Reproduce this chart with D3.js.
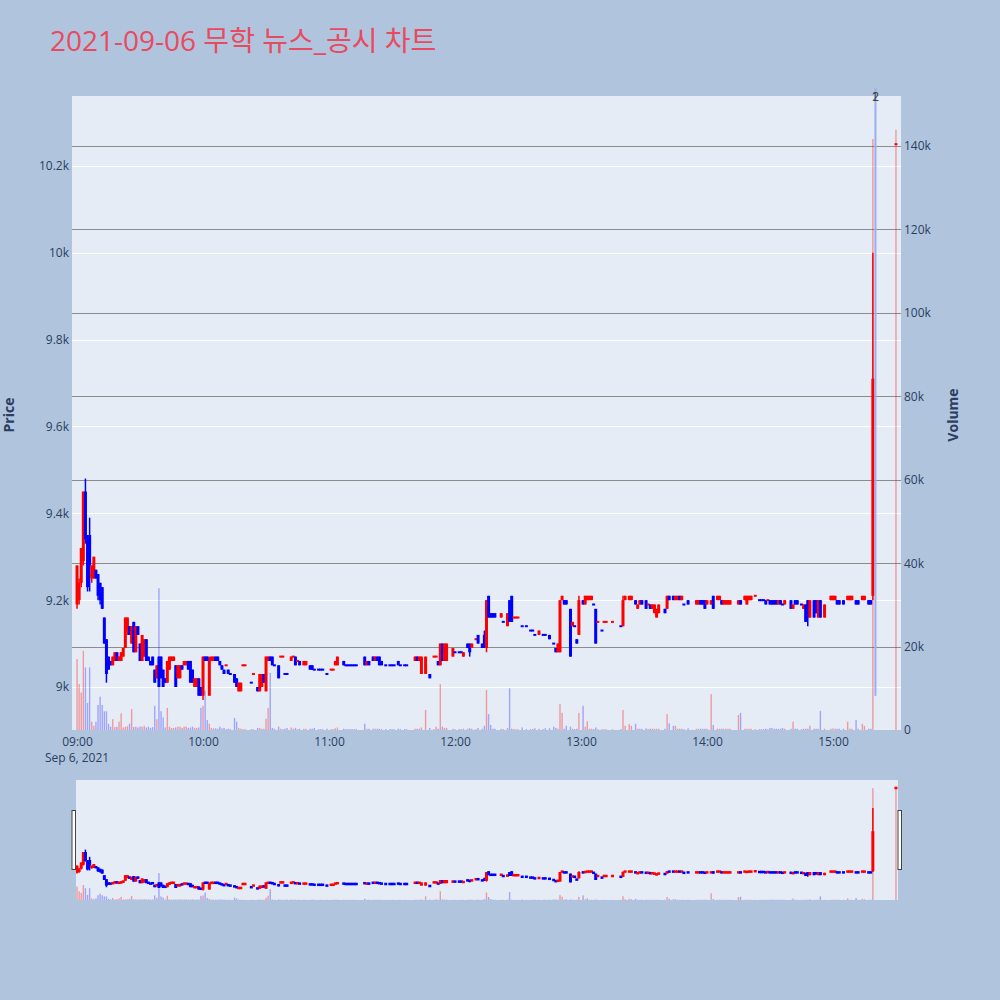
<!DOCTYPE html>
<meta charset="utf-8">
<title>무학 뉴스_공시 차트</title>
<style>
  body { margin: 0; background: #b0c4de; }
  svg { display: block; font-family: "Open Sans", "Noto Sans CJK KR", sans-serif; }
</style>
<div id="viz"></div>
<script src="https://cdnjs.cloudflare.com/ajax/libs/d3/7.8.5/d3.min.js"></script>
<script>

// one row per 1-minute candle: [minute, open, high, low, close, volume]
var hour09 = [
  [0, 9190, 9280, 9180, 9280, 17000], [1, 9200, 9250, 9190, 9240, 11000],
  [2, 9240, 9320, 9230, 9320, 9000], [3, 9290, 9450, 9280, 9450, 19000],
  [4, 9450, 9480, 9330, 9340, 15000], [5, 9340, 9350, 9220, 9230, 6500],
  [6, 9350, 9390, 9220, 9280, 15000], [7, 9250, 9280, 9240, 9280, 2000],
  [8, 9250, 9300, 9250, 9300, 1000], [9, 9270, 9270, 9250, 9250, 2000],
  [10, 9260, 9260, 9200, 9210, 6000], [11, 9240, 9240, 9190, 9200, 8000],
  [12, 9230, 9230, 9180, 9180, 6000], [13, 9160, 9160, 9100, 9100, 4500],
  [14, 9110, 9110, 9010, 9030, 4500], [15, 9070, 9070, 9040, 9040, 1500],
  [16, 9060, 9060, 9050, 9050, 800], [17, 9050, 9070, 9050, 9070, 2600],
  [18, 9060, 9080, 9060, 9080, 700], [19, 9080, 9080, 9060, 9060, 800],
  [20, 9060, 9070, 9060, 9070, 2000], [21, 9060, 9080, 9060, 9080, 4000],
  [22, 9070, 9090, 9070, 9090, 600], [23, 9090, 9160, 9090, 9160, 800],
  [24, 9130, 9160, 9120, 9160, 900], [25, 9140, 9140, 9120, 9120, 1500],
  [26, 9100, 9140, 9100, 9140, 5000], [27, 9150, 9150, 9080, 9080, 700],
  [28, 9080, 9140, 9080, 9140, 800], [29, 9140, 9140, 9120, 9120, 600],
  [30, 9100, 9100, 9060, 9060, 800], [31, 9060, 9120, 9060, 9120, 800],
  [32, 9070, 9110, 9070, 9110, 1000], [33, 9110, 9110, 9060, 9060, 600],
  [34, 9070, 9070, 9060, 9060, 800], [35, 9060, 9060, 9050, 9050, 500],
  [36, 9070, 9070, 9050, 9050, 700], [37, 9040, 9040, 9010, 9010, 5800],
  [38, 9020, 9050, 9020, 9050, 2600], [39, 9070, 9070, 9000, 9000, 34000],
  [40, 9070, 9070, 9020, 9020, 4500], [41, 9040, 9040, 9000, 9000, 3000],
  [42, 9020, 9020, 9010, 9010, 600], [43, 9010, 9060, 9010, 9060, 5300],
  [44, 9040, 9070, 9040, 9070, 800], [45, 9060, 9070, 9060, 9070, 500],
  [46, 9060, 9070, 9060, 9070, 500], [47, 9050, 9050, 9000, 9000, 600],
  [48, 9020, 9050, 9020, 9050, 800], [49, 9020, 9050, 9020, 9050, 800],
  [50, 9050, 9050, 9040, 9040, 500], [51, 9050, 9060, 9050, 9060, 800],
  [52, 9050, 9060, 9050, 9060, 800], [53, 9060, 9060, 9040, 9040, 500],
  [54, 9060, 9060, 9010, 9010, 600], [55, 9040, 9040, 9010, 9010, 800],
  [56, 9000, 9020, 9000, 9020, 500], [57, 9000, 9020, 9000, 9020, 500],
  [58, 9020, 9020, 8980, 8980, 600], [59, 9000, 9000, 8980, 8980, 5300]
];

var hour10 = [
  [0, 8980, 9070, 8970, 9070, 5800], [1, 9070, 9070, 9060, 9060, 9400],
  [2, 9070, 9070, 9060, 9060, 2400], [3, 8980, 9070, 8980, 9060, 1500],
  [4, 9060, 9070, 9060, 9070, 500], [5, 9060, 9070, 9060, 9070, 400],
  [6, 9070, 9070, 9060, 9060, 400], [7, 9070, 9070, 9060, 9060, 300],
  [8, 9060, 9060, 9050, 9050, 800], [9, 9050, 9050, 9040, 9040, 400],
  [10, 9040, 9040, 9030, 9030, 500], [11, 9050, 9050, 9050, 9050, 200],
  [12, 9040, 9040, 9030, 9030, 300], [13, 9030, 9030, 9030, 9030, 200],
  [15, 9030, 9030, 9010, 9010, 2900], [16, 9020, 9020, 9000, 9000, 2000],
  [17, 8990, 9010, 8990, 9010, 500], [18, 8990, 9010, 8990, 9010, 300],
  [19, 9050, 9050, 9050, 9050, 200], [20, 9050, 9050, 9050, 9050, 200],
  [23, 9010, 9010, 9010, 9010, 200], [24, 9030, 9030, 9030, 9030, 200],
  [26, 9000, 9000, 8990, 8990, 500], [27, 8990, 9030, 8990, 9030, 500],
  [28, 9000, 9030, 9000, 9030, 300], [29, 9030, 9030, 9010, 9010, 300],
  [30, 8990, 9070, 8990, 9070, 2700], [31, 9060, 9070, 9060, 9070, 5300],
  [32, 9070, 9070, 9060, 9060, 13700], [33, 9070, 9070, 9050, 9050, 500],
  [34, 9050, 9050, 9050, 9050, 300], [36, 9050, 9050, 9020, 9020, 800],
  [37, 9070, 9070, 9070, 9070, 300], [38, 9070, 9070, 9070, 9070, 200],
  [39, 9030, 9030, 9030, 9030, 300], [40, 9030, 9030, 9030, 9030, 500],
  [42, 9060, 9070, 9060, 9070, 600], [43, 9070, 9070, 9070, 9070, 300],
  [44, 9070, 9070, 9050, 9050, 500], [45, 9060, 9060, 9060, 9060, 200],
  [46, 9060, 9060, 9050, 9050, 300], [48, 9050, 9060, 9050, 9060, 300],
  [49, 9050, 9060, 9050, 9060, 300], [51, 9050, 9050, 9040, 9040, 300],
  [52, 9050, 9050, 9040, 9040, 300], [53, 9040, 9040, 9040, 9040, 500],
  [55, 9040, 9040, 9040, 9040, 200], [56, 9040, 9040, 9040, 9040, 200],
  [57, 9040, 9040, 9040, 9040, 200], [59, 9030, 9030, 9030, 9030, 300]
];

var hour11 = [
  [1, 9040, 9040, 9040, 9040, 200], [2, 9040, 9040, 9040, 9040, 200],
  [3, 9050, 9060, 9050, 9060, 400], [4, 9050, 9070, 9050, 9070, 600],
  [7, 9060, 9060, 9050, 9050, 300], [8, 9050, 9050, 9050, 9050, 200],
  [9, 9050, 9050, 9050, 9050, 200], [10, 9050, 9050, 9050, 9050, 200],
  [11, 9050, 9050, 9050, 9050, 200], [12, 9050, 9050, 9050, 9050, 200],
  [13, 9050, 9050, 9050, 9050, 200], [17, 9070, 9070, 9050, 9050, 1500],
  [18, 9050, 9060, 9050, 9060, 300], [19, 9060, 9060, 9050, 9050, 300],
  [21, 9070, 9070, 9060, 9060, 300], [22, 9060, 9070, 9060, 9070, 300],
  [23, 9070, 9070, 9060, 9060, 300], [24, 9070, 9070, 9050, 9050, 300],
  [25, 9060, 9060, 9050, 9050, 200], [27, 9050, 9050, 9050, 9050, 200],
  [29, 9050, 9050, 9050, 9050, 200], [30, 9050, 9050, 9050, 9050, 200],
  [31, 9050, 9050, 9050, 9050, 200], [33, 9060, 9060, 9050, 9050, 300],
  [34, 9050, 9050, 9050, 9050, 200], [36, 9050, 9050, 9050, 9050, 200],
  [37, 9050, 9050, 9050, 9050, 200], [41, 9060, 9070, 9060, 9070, 300],
  [42, 9070, 9070, 9060, 9060, 300], [43, 9060, 9070, 9060, 9070, 300],
  [44, 9030, 9070, 9030, 9070, 600], [46, 9030, 9070, 9030, 9070, 4800],
  [48, 9030, 9030, 9020, 9020, 500], [50, 9070, 9070, 9070, 9070, 200],
  [51, 9070, 9070, 9070, 9070, 800], [52, 9060, 9060, 9050, 9050, 300],
  [53, 9050, 9100, 9050, 9100, 11000], [54, 9100, 9100, 9060, 9060, 800],
  [55, 9060, 9100, 9060, 9100, 500], [56, 9060, 9100, 9060, 9100, 500],
  [59, 9070, 9090, 9070, 9090, 300]
];

var hour12 = [
  [0, 9080, 9080, 9080, 9080, 200], [2, 9080, 9080, 9080, 9080, 200],
  [3, 9080, 9080, 9080, 9080, 200], [4, 9070, 9080, 9070, 9080, 300],
  [6, 9100, 9100, 9090, 9090, 300], [7, 9100, 9100, 9070, 9080, 400],
  [8, 9090, 9100, 9090, 9100, 300], [10, 9110, 9110, 9110, 9110, 200],
  [11, 9120, 9120, 9100, 9100, 500], [13, 9100, 9100, 9090, 9090, 300],
  [14, 9120, 9130, 9090, 9090, 1000], [15, 9090, 9200, 9080, 9200, 9600],
  [16, 9210, 9210, 9160, 9160, 3800], [17, 9170, 9170, 9160, 9160, 1200],
  [18, 9170, 9170, 9160, 9160, 300], [19, 9170, 9170, 9160, 9160, 300],
  [22, 9160, 9170, 9160, 9170, 300], [23, 9150, 9150, 9150, 9150, 200],
  [25, 9140, 9170, 9140, 9170, 500], [26, 9200, 9200, 9150, 9150, 10000],
  [27, 9210, 9210, 9150, 9150, 300], [28, 9160, 9160, 9160, 9160, 200],
  [29, 9160, 9160, 9160, 9160, 200], [30, 9160, 9160, 9160, 9160, 200],
  [32, 9140, 9140, 9140, 9140, 600], [34, 9140, 9140, 9140, 9140, 200],
  [36, 9130, 9130, 9130, 9130, 200], [37, 9130, 9130, 9130, 9130, 200],
  [38, 9120, 9120, 9120, 9120, 400], [40, 9120, 9130, 9120, 9130, 300],
  [42, 9120, 9120, 9120, 9120, 200], [43, 9120, 9120, 9120, 9120, 400],
  [45, 9120, 9120, 9110, 9110, 400], [47, 9100, 9100, 9100, 9100, 800],
  [48, 9090, 9090, 9080, 9080, 500], [49, 9080, 9100, 9080, 9100, 300],
  [50, 9080, 9200, 9080, 9200, 6200], [51, 9200, 9210, 9200, 9210, 4100],
  [52, 9200, 9200, 9190, 9190, 300], [53, 9200, 9200, 9190, 9190, 1000],
  [55, 9180, 9180, 9070, 9070, 800], [56, 9140, 9150, 9140, 9150, 300],
  [57, 9140, 9140, 9140, 9140, 200], [58, 9110, 9110, 9100, 9100, 300],
  [59, 9120, 9210, 9120, 9200, 4100]
];

var hour13 = [
  [1, 9200, 9200, 9190, 9190, 5800], [2, 9190, 9210, 9190, 9210, 800],
  [3, 9200, 9210, 9200, 9210, 2100], [4, 9200, 9210, 9200, 9210, 300],
  [5, 9200, 9210, 9200, 9210, 300], [6, 9190, 9190, 9190, 9190, 200],
  [7, 9180, 9180, 9100, 9100, 600], [8, 9150, 9150, 9150, 9150, 200],
  [10, 9130, 9130, 9130, 9130, 200], [11, 9150, 9150, 9150, 9150, 200],
  [12, 9150, 9150, 9150, 9150, 200], [15, 9150, 9150, 9150, 9150, 200],
  [19, 9140, 9140, 9140, 9140, 200], [20, 9140, 9210, 9140, 9200, 4800],
  [21, 9200, 9210, 9200, 9210, 1000], [23, 9200, 9210, 9200, 9210, 1400],
  [24, 9200, 9210, 9200, 9210, 1000], [26, 9200, 9200, 9190, 9190, 1500],
  [27, 9180, 9190, 9180, 9190, 300], [28, 9190, 9200, 9190, 9200, 300],
  [29, 9200, 9200, 9190, 9190, 300], [31, 9200, 9200, 9180, 9180, 400],
  [32, 9190, 9190, 9190, 9190, 200], [33, 9190, 9190, 9180, 9180, 300],
  [34, 9180, 9190, 9180, 9190, 300], [35, 9170, 9190, 9170, 9190, 300],
  [36, 9160, 9180, 9160, 9180, 300], [37, 9170, 9190, 9170, 9190, 300],
  [40, 9180, 9180, 9170, 9170, 300], [41, 9180, 9210, 9180, 9210, 3800],
  [42, 9210, 9210, 9200, 9200, 1600], [44, 9210, 9210, 9200, 9200, 1000],
  [45, 9200, 9210, 9200, 9210, 1000], [46, 9200, 9210, 9200, 9210, 300],
  [47, 9210, 9210, 9200, 9200, 300], [48, 9200, 9210, 9200, 9210, 300],
  [49, 9190, 9190, 9190, 9190, 200], [51, 9200, 9200, 9190, 9190, 400],
  [55, 9190, 9200, 9190, 9200, 300], [56, 9190, 9200, 9190, 9200, 300],
  [57, 9200, 9200, 9190, 9190, 300], [58, 9200, 9200, 9190, 9190, 300],
  [59, 9200, 9200, 9180, 9180, 300]
];

var hour14 = [
  [0, 9190, 9200, 9190, 9200, 300], [2, 9190, 9200, 9190, 9200, 8600],
  [3, 9210, 9210, 9180, 9180, 1200], [5, 9200, 9210, 9200, 9210, 300],
  [6, 9200, 9210, 9200, 9210, 300], [7, 9200, 9200, 9190, 9190, 300],
  [8, 9190, 9200, 9190, 9200, 300], [9, 9190, 9200, 9190, 9200, 300],
  [10, 9190, 9200, 9190, 9200, 300], [11, 9190, 9200, 9190, 9200, 300],
  [15, 9190, 9200, 9190, 9200, 3600], [16, 9200, 9200, 9190, 9190, 4100],
  [18, 9200, 9210, 9200, 9210, 300], [19, 9190, 9210, 9190, 9210, 300],
  [20, 9200, 9210, 9200, 9210, 300], [21, 9200, 9210, 9200, 9210, 300],
  [23, 9210, 9210, 9210, 9210, 200], [25, 9200, 9200, 9200, 9200, 200],
  [26, 9200, 9200, 9200, 9200, 200], [27, 9200, 9200, 9200, 9200, 200],
  [28, 9200, 9200, 9190, 9190, 300], [29, 9200, 9200, 9200, 9200, 200],
  [30, 9200, 9200, 9190, 9190, 500], [31, 9200, 9200, 9190, 9190, 500],
  [32, 9200, 9200, 9190, 9190, 300], [33, 9200, 9200, 9190, 9190, 300],
  [34, 9190, 9200, 9190, 9200, 300], [35, 9200, 9200, 9190, 9190, 300],
  [36, 9190, 9190, 9190, 9190, 500], [37, 9190, 9200, 9190, 9200, 300],
  [40, 9200, 9200, 9180, 9180, 300], [41, 9180, 9190, 9180, 9190, 2000],
  [42, 9200, 9200, 9190, 9190, 300], [43, 9200, 9200, 9190, 9190, 300],
  [45, 9190, 9190, 9190, 9190, 200], [46, 9180, 9190, 9180, 9190, 300],
  [47, 9190, 9190, 9150, 9150, 300], [48, 9200, 9200, 9140, 9160, 300],
  [49, 9160, 9200, 9160, 9200, 1000], [51, 9200, 9200, 9160, 9160, 300],
  [52, 9200, 9200, 9170, 9170, 300], [53, 9160, 9200, 9160, 9200, 300],
  [54, 9200, 9200, 9160, 9160, 4600], [56, 9160, 9190, 9160, 9190, 300],
  [59, 9200, 9210, 9200, 9210, 300]
];

var hour15 = [
  [0, 9200, 9210, 9200, 9210, 400], [1, 9200, 9210, 9200, 9210, 300],
  [2, 9200, 9200, 9190, 9190, 300], [3, 9200, 9200, 9190, 9190, 300],
  [5, 9200, 9200, 9190, 9190, 300], [7, 9200, 9210, 9200, 9210, 2000],
  [8, 9200, 9210, 9200, 9210, 300], [9, 9200, 9210, 9200, 9210, 300],
  [11, 9200, 9200, 9190, 9190, 2400], [12, 9200, 9200, 9190, 9190, 300],
  [14, 9200, 9210, 9200, 9210, 1500], [15, 9200, 9210, 9200, 9210, 1000],
  [17, 9200, 9200, 9190, 9190, 300], [18, 9200, 9200, 9190, 9190, 300],
  [19, 9210, 10000, 9200, 9710, 141700],
  [30, 10250, 10250, 10250, 10250, 143900]
];

var hourRows = [hour09, hour10, hour11, hour12, hour13, hour14, hour15];
var hourStarts = [9, 10, 11, 12, 13, 14, 15];

var priceTicks = [9000, 9200, 9400, 9600, 9800, 10000, 10200];
var volumeTicks = [0, 20000, 40000, 60000, 80000, 100000, 120000, 140000];
var timeTicks = ["09:00", "10:00", "11:00", "12:00", "13:00", "14:00", "15:00"];

var newsTimes = ["15:20", "15:20"];
var newsLabels = ["1", "2"];
var newsLow = 8980;

var chartTitle = "2021-09-06 무학 뉴스_공시 차트";
var dateLabel = "Sep 6, 2021";

// ---------------------------------------------------------------

function at(hm) {
  var p = hm.split(":");
  return new Date(2021, 8, 6, +p[0], +p[1]);
}

var candles = [];
hourRows.forEach(function(rows, k) {
  rows.forEach(function(r) {
    candles.push({ date: new Date(2021, 8, 6, hourStarts[k], r[0]),
      o: r[1], h: r[2], l: r[3], c: r[4], v: r[5] });
  });
});

// plotly style direction: flat candles look at the previous close
var up = true, cPrev = null;
candles.forEach(function(d) {
  if (d.c === d.o) {
    if (cPrev !== null && d.c !== cPrev) up = d.c > cPrev;
  } else up = d.c > d.o;
  d.up = up;
  cPrev = d.c;
});

var W = 1000, H = 1000;
var mLeft = 72, mRight = 901, mTop = 96, mBottom = 730;
var sTop = 780, sBottom = 900, sLeft = 76, sRight = 898;

var RED = "#ff0000", BLUE = "#0000ff";
var VRED = "rgba(255,0,0,0.35)", VBLUE = "rgba(0,0,255,0.3)";
var TICK = "#2a3f5f";

var svg = d3.select("#viz").append("svg")
  .attr("width", W).attr("height", H);

svg.append("rect").attr("width", W).attr("height", H).attr("fill", "#b0c4de");

var x = d3.scaleTime()
  .domain([new Date(2021, 8, 6, 8, 57, 36), new Date(2021, 8, 6, 15, 32, 24)])
  .range([mLeft, mRight]);
var yP = d3.scaleLinear().domain([8901, 10361]).range([mBottom, mTop]);
var yV = d3.scaleLinear().domain([0, 152000]).range([mBottom, mTop]);

// title
svg.append("text")
  .attr("x", 50).attr("y", 51)
  .attr("font-size", 28)
  .attr("fill", "#e84a5f")
  .text(chartTitle);

// plot background + grids
svg.append("rect")
  .attr("x", mLeft).attr("y", mTop)
  .attr("width", mRight - mLeft).attr("height", mBottom - mTop)
  .attr("fill", "#e5ecf6");

svg.append("g").selectAll("line").data(priceTicks).join("line")
  .attr("x1", mLeft).attr("x2", mRight)
  .attr("y1", function(d) { return Math.round(yP(d)) + 0.5; })
  .attr("y2", function(d) { return Math.round(yP(d)) + 0.5; })
  .attr("stroke", "#fff").attr("stroke-width", 1);

svg.append("g").selectAll("line").data(volumeTicks.slice(1)).join("line")
  .attr("x1", mLeft).attr("x2", mRight)
  .attr("y1", function(d) { return Math.round(yV(d)) + 0.5; })
  .attr("y2", function(d) { return Math.round(yV(d)) + 0.5; })
  .attr("stroke", "#8c8c8c").attr("stroke-width", 1);

svg.append("clipPath").attr("id", "clip-main")
  .append("rect").attr("x", mLeft).attr("y", mTop - 10)
  .attr("width", mRight - mLeft).attr("height", mBottom - mTop + 10);

function drawCandles(g, xs, ys, bodyW, wickW, minH) {
  g.selectAll("line.wick").data(candles).join("line")
    .attr("class", "wick")
    .attr("x1", function(d) { return xs(d.date); })
    .attr("x2", function(d) { return xs(d.date); })
    .attr("y1", function(d) { return ys(d.h); })
    .attr("y2", function(d) { return ys(d.l); })
    .attr("stroke", function(d) { return d.up ? RED : BLUE; })
    .attr("stroke-width", wickW);
  g.selectAll("rect.body").data(candles).join("rect")
    .attr("class", "body")
    .attr("x", function(d) { return xs(d.date) - bodyW / 2; })
    .attr("width", bodyW)
    .attr("y", function(d) {
      var y0 = ys(Math.max(d.o, d.c)), y1 = ys(Math.min(d.o, d.c));
      return y1 - y0 < minH ? (y0 + y1) / 2 - minH / 2 : y0;
    })
    .attr("height", function(d) {
      return Math.max(minH, ys(Math.min(d.o, d.c)) - ys(Math.max(d.o, d.c)));
    })
    .attr("fill", function(d) { return d.up ? RED : BLUE; });
}

function drawVolume(g, xs, ys, w) {
  g.selectAll("rect.vol").data(candles).join("rect")
    .attr("class", "vol")
    .attr("x", function(d) { return xs(d.date) - w / 2; })
    .attr("width", w)
    .attr("y", function(d) { return ys(d.v); })
    .attr("height", function(d) { return ys(0) - ys(d.v); })
    .attr("fill", function(d) { return d.up ? VRED : VBLUE; });
}

var main = svg.append("g").attr("clip-path", "url(#clip-main)");
drawCandles(main.append("g"), x, yP, 3, 1.5, 2);
drawVolume(main.append("g"), x, yV, 1.4);

// news markers
main.append("g").selectAll("line").data(newsTimes).join("line")
  .attr("x1", function(d) { return x(at(d)) + 0.5; })
  .attr("x2", function(d) { return x(at(d)) + 0.5; })
  .attr("y1", mTop - 8)
  .attr("y2", yP(newsLow))
  .attr("stroke", "#9aaef0").attr("stroke-width", 1.6);

svg.append("g").selectAll("text").data(newsLabels).join("text")
  .attr("x", function(d, i) { return x(at(newsTimes[i])) + i * 0.8; })
  .attr("y", mTop + 5)
  .attr("text-anchor", "middle")
  .attr("font-size", 12)
  .attr("fill", "#444")
  .text(function(d) { return d; });

// axes
var yAxisL = svg.append("g")
  .attr("transform", "translate(" + mLeft + ",0)")
  .call(d3.axisLeft(yP).tickValues(priceTicks).tickSize(0).tickPadding(3)
    .tickFormat(d3.format("~s")));
var yAxisR = svg.append("g")
  .attr("transform", "translate(" + mRight + ",0)")
  .call(d3.axisRight(yV).tickValues(volumeTicks).tickSize(0).tickPadding(3)
    .tickFormat(d3.format("~s")));
var xAxis = svg.append("g")
  .attr("transform", "translate(0," + mBottom + ")")
  .call(d3.axisBottom(x).tickValues(timeTicks.map(at)).tickSize(0).tickPadding(7)
    .tickFormat(d3.timeFormat("%H:%M")));

[yAxisL, yAxisR, xAxis].forEach(function(a) {
  a.select(".domain").remove();
  a.selectAll("text").attr("fill", TICK)
    .attr("font-size", 12)
    .attr("font-family", "'Open Sans', sans-serif");
});

svg.append("text")
  .attr("x", x(at(timeTicks[0]))).attr("y", 762)
  .attr("text-anchor", "middle")
  .attr("font-size", 12).attr("fill", TICK)
  .text(dateLabel);

svg.append("text")
  .attr("transform", "translate(14,415) rotate(-90)")
  .attr("text-anchor", "middle")
  .attr("font-size", 14).attr("font-weight", "bold").attr("fill", TICK)
  .text("Price");
svg.append("text")
  .attr("transform", "translate(958,415) rotate(-90)")
  .attr("text-anchor", "middle")
  .attr("font-size", 14).attr("font-weight", "bold").attr("fill", TICK)
  .text("Volume");

// range slider
var yPs = d3.scaleLinear().domain([8850, 10350]).range([sBottom, sTop]);
var yVs = d3.scaleLinear().domain([0, 152000]).range([sBottom, sTop]);

svg.append("rect")
  .attr("x", sLeft).attr("y", sTop)
  .attr("width", sRight - sLeft).attr("height", sBottom - sTop)
  .attr("fill", "#e5ecf6");

svg.append("clipPath").attr("id", "clip-slider")
  .append("rect").attr("x", sLeft).attr("y", sTop)
  .attr("width", sRight - sLeft).attr("height", sBottom - sTop);

var slider = svg.append("g").attr("clip-path", "url(#clip-slider)");
drawCandles(slider.append("g"), x, yPs, 3, 1.5, 2.5);
drawVolume(slider.append("g"), x, yVs, 1.4);

svg.append("g").selectAll("rect").data([sLeft - 2, sRight + 2]).join("rect")
  .attr("x", function(d) { return d - 2; })
  .attr("y", 810.5)
  .attr("width", 3.5).attr("height", 59)
  .attr("fill", "#fff").attr("stroke", "#444").attr("stroke-width", 1);

</script>
